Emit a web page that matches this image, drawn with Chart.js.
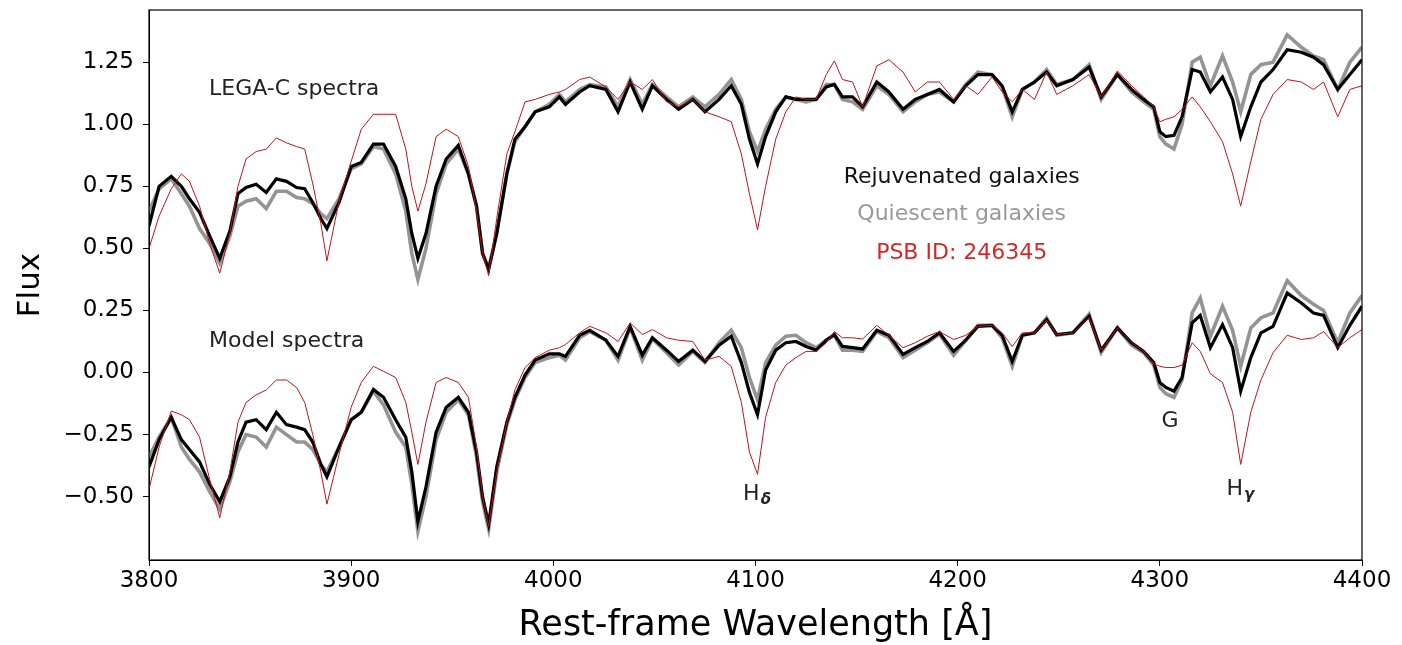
<!DOCTYPE html>
<html>
<head>
<meta charset="utf-8">
<script src="https://cdn.jsdelivr.net/npm/chart.js@4.4.0/dist/chart.umd.min.js"></script>
<style>
  html, body { margin: 0; padding: 0; background: #fff; }
  #wrap { width: 1402px; height: 645px; }
</style>
</head>
<body>
<div id="wrap"><canvas id="myChart" width="1402" height="645"></canvas></div>
<script>
// wavelength grid (Angstrom), shared by all spectra
const wavelength = [
  3800, 3805, 3811, 3816, 3820, 3825, 3830, 3835, 3840, 3844,
  3848, 3853, 3858, 3863, 3868, 3873, 3877, 3881, 3885, 3888,
  3894, 3900, 3905, 3911, 3916, 3922, 3927, 3930, 3933, 3937,
  3942, 3947, 3953, 3958, 3962, 3965, 3968, 3972, 3977, 3981,
  3986, 3991, 3998, 4003, 4006, 4013, 4018, 4026, 4032, 4038,
  4044, 4049, 4056, 4062, 4069, 4075, 4082, 4088, 4093, 4097,
  4101, 4105, 4110, 4115, 4120, 4125, 4130, 4135, 4139, 4143,
  4148, 4153, 4160, 4166, 4173, 4179, 4185, 4191, 4198, 4204,
  4210, 4217, 4222, 4227, 4232, 4238, 4244, 4249, 4257, 4265,
  4271, 4279, 4286, 4292, 4297, 4300, 4303, 4307, 4311, 4316,
  4320, 4325, 4331, 4336, 4340, 4345, 4350, 4356, 4363, 4370,
  4376, 4381, 4388, 4394, 4400
];

// LEGA-C spectra (upper set)
const legacRejuvenated = [
  0.59, 0.75, 0.79, 0.75, 0.70, 0.645, 0.55, 0.46, 0.57, 0.72,
  0.745, 0.758, 0.725, 0.78, 0.77, 0.745, 0.74, 0.685, 0.62, 0.58,
  0.685, 0.83, 0.846, 0.92, 0.92, 0.83, 0.70, 0.56, 0.46, 0.56,
  0.75, 0.86, 0.915, 0.80, 0.67, 0.48, 0.415, 0.56, 0.80, 0.94,
  0.99, 1.05, 1.07, 1.11, 1.08, 1.13, 1.155, 1.14, 1.05, 1.17,
  1.06, 1.155, 1.10, 1.06, 1.10, 1.05, 1.10, 1.155, 1.08, 0.94,
  0.84, 0.95, 1.05, 1.11, 1.10, 1.10, 1.10, 1.15, 1.16, 1.11,
  1.11, 1.07, 1.17, 1.13, 1.06, 1.10, 1.12, 1.14, 1.09, 1.155,
  1.20, 1.20, 1.155, 1.05, 1.14, 1.17, 1.21, 1.155, 1.18, 1.23,
  1.11, 1.20, 1.14, 1.10, 1.07, 0.97, 0.95, 0.955, 1.03, 1.22,
  1.21, 1.13, 1.19, 1.10, 0.95, 1.07, 1.17, 1.22, 1.30, 1.29,
  1.27, 1.24, 1.14, 1.20, 1.26
];
const legacQuiescent = [
  0.65, 0.74, 0.78, 0.72, 0.67, 0.58, 0.52, 0.44, 0.55, 0.67,
  0.69, 0.70, 0.66, 0.73, 0.73, 0.705, 0.70, 0.68, 0.64, 0.62,
  0.70, 0.82, 0.84, 0.91, 0.90, 0.80, 0.65, 0.48, 0.375, 0.50,
  0.72, 0.84, 0.90, 0.80, 0.67, 0.48, 0.42, 0.56, 0.80, 0.93,
  0.99, 1.05, 1.08, 1.12, 1.09, 1.14, 1.16, 1.15, 1.07, 1.18,
  1.08, 1.16, 1.11, 1.07, 1.11, 1.07, 1.12, 1.18, 1.10, 0.97,
  0.89, 0.98, 1.06, 1.11, 1.10, 1.09, 1.10, 1.16, 1.16, 1.10,
  1.09, 1.06, 1.155, 1.12, 1.05, 1.09, 1.12, 1.13, 1.09, 1.16,
  1.21, 1.20, 1.15, 1.03, 1.14, 1.17, 1.22, 1.16, 1.18, 1.24,
  1.10, 1.20, 1.13, 1.09, 1.06, 0.95, 0.92, 0.90, 1.00, 1.25,
  1.27, 1.155, 1.275, 1.17, 1.05, 1.20, 1.24, 1.25, 1.36, 1.31,
  1.275, 1.26, 1.14, 1.25, 1.31
];
const legacPSB = [
  0.50, 0.63, 0.74, 0.80, 0.77, 0.67, 0.52, 0.40, 0.56, 0.75,
  0.86, 0.89, 0.90, 0.945, 0.925, 0.91, 0.90, 0.76, 0.60, 0.45,
  0.69, 0.85, 0.98, 1.04, 1.04, 1.04, 0.90, 0.75, 0.65, 0.76,
  0.95, 0.98, 0.95, 0.83, 0.65, 0.48, 0.39, 0.62, 0.88, 0.97,
  1.09, 1.10, 1.12, 1.13, 1.14, 1.18, 1.19, 1.15, 1.10, 1.17,
  1.14, 1.18, 1.09, 1.07, 1.10, 1.05, 1.03, 1.01, 0.88, 0.72,
  0.575, 0.75, 0.94, 1.05, 1.11, 1.10, 1.10, 1.20, 1.255, 1.18,
  1.17, 1.07, 1.235, 1.26, 1.21, 1.13, 1.17, 1.17, 1.10, 1.155,
  1.12, 1.19, 1.13, 1.09, 1.14, 1.10, 1.21, 1.12, 1.155, 1.20,
  1.11, 1.215, 1.155, 1.11, 1.07, 1.01, 1.02, 1.03, 1.06, 1.11,
  1.07, 1.01, 0.93, 0.80, 0.67, 0.85, 1.02, 1.12, 1.18, 1.17,
  1.14, 1.17, 1.03, 1.14, 1.155
];

// Model spectra (lower set)
const modelRejuvenated = [
  -0.38, -0.27, -0.18, -0.27, -0.31, -0.36, -0.45, -0.52, -0.42, -0.28,
  -0.20, -0.19, -0.23, -0.16, -0.21, -0.22, -0.23, -0.28, -0.37, -0.42,
  -0.30, -0.19, -0.16, -0.068, -0.10, -0.19, -0.26, -0.40, -0.60, -0.46,
  -0.24, -0.14, -0.10, -0.16, -0.32, -0.50, -0.61, -0.38, -0.20, -0.10,
  -0.01, 0.05, 0.075, 0.075, 0.065, 0.15, 0.17, 0.13, 0.065, 0.186,
  0.07, 0.14, 0.09, 0.045, 0.09, 0.045, 0.11, 0.146, 0.04, -0.08,
  -0.17, 0.01, 0.09, 0.12, 0.125, 0.105, 0.09, 0.13, 0.153, 0.105,
  0.10, 0.095, 0.17, 0.15, 0.073, 0.10, 0.125, 0.16, 0.085, 0.13,
  0.186, 0.19, 0.15, 0.045, 0.15, 0.16, 0.213, 0.153, 0.16, 0.227,
  0.09, 0.18, 0.12, 0.085, 0.04, -0.04, -0.06, -0.075, -0.02, 0.20,
  0.23, 0.10, 0.193, 0.10, -0.075, 0.06, 0.16, 0.186, 0.32, 0.28,
  0.24, 0.23, 0.10, 0.19, 0.267
];
const modelQuiescent = [
  -0.34, -0.26, -0.18, -0.30, -0.35, -0.40, -0.48, -0.55, -0.44, -0.32,
  -0.25, -0.26, -0.30, -0.22, -0.25, -0.28, -0.28, -0.31, -0.37, -0.40,
  -0.30, -0.19, -0.16, -0.075, -0.13, -0.24, -0.30, -0.45, -0.64, -0.50,
  -0.27, -0.16, -0.11, -0.17, -0.34, -0.52, -0.63, -0.40, -0.21, -0.11,
  -0.02, 0.04, 0.06, 0.07, 0.05, 0.14, 0.165, 0.13, 0.05, 0.18,
  0.05, 0.135, 0.08, 0.03, 0.085, 0.04, 0.12, 0.17, 0.10, -0.02,
  -0.11, 0.04, 0.11, 0.146, 0.15, 0.12, 0.10, 0.13, 0.15, 0.09,
  0.09, 0.085, 0.165, 0.14, 0.06, 0.09, 0.12, 0.155, 0.07, 0.13,
  0.19, 0.19, 0.14, 0.025, 0.15, 0.16, 0.22, 0.15, 0.16, 0.235,
  0.08, 0.18, 0.11, 0.08, 0.03, -0.06, -0.085, -0.10, -0.03, 0.24,
  0.30, 0.146, 0.267, 0.17, 0.025, 0.18, 0.22, 0.24, 0.37, 0.31,
  0.275, 0.25, 0.12, 0.24, 0.31
];
const modelPSB = [
  -0.47, -0.30, -0.155, -0.17, -0.19, -0.26, -0.43, -0.585, -0.40, -0.20,
  -0.12, -0.09, -0.07, -0.03, -0.03, -0.06, -0.12, -0.25, -0.40, -0.53,
  -0.33, -0.14, -0.04, 0.025, 0.005, -0.02, -0.12, -0.24, -0.37, -0.20,
  -0.04, -0.02, -0.04, -0.10, -0.30, -0.50, -0.62, -0.40, -0.20, -0.07,
  0.02, 0.06, 0.09, 0.10, 0.113, 0.16, 0.186, 0.16, 0.125, 0.20,
  0.153, 0.173, 0.14, 0.13, 0.125, 0.05, 0.065, 0.025, -0.12, -0.32,
  -0.41, -0.18, -0.04, 0.03, 0.06, 0.085, 0.085, 0.12, 0.165, 0.14,
  0.14, 0.135, 0.19, 0.15, 0.10, 0.12, 0.146, 0.165, 0.133, 0.15,
  0.186, 0.19, 0.16, 0.105, 0.16, 0.16, 0.21, 0.153, 0.16, 0.22,
  0.09, 0.18, 0.12, 0.085, 0.035, 0.025, 0.02, 0.02, 0.03, 0.12,
  0.085, -0.005, -0.04, -0.16, -0.37, -0.16, -0.03, 0.08, 0.15, 0.133,
  0.14, 0.165, 0.10, 0.14, 0.173
];

const yTicks = [-0.5, -0.25, 0, 0.25, 0.5, 0.75, 1.0, 1.25];

// text labels placed in data coordinates
const notes = [
  { text: "LEGA-C spectra", x: 3829.7, y: 1.14, color: "#222", align: "left" },
  { text: "Model spectra", x: 3829.7, y: 0.125, color: "#222", align: "left" },
  { text: "Rejuvenated galaxies", x: 4202, y: 0.786, color: "#111", align: "center" },
  { text: "Quiescent galaxies", x: 4202, y: 0.637, color: "#999", align: "center" },
  { text: "PSB ID: 246345", x: 4202, y: 0.48, color: "#d62728", align: "center" },
  { text: "G", x: 4305, y: -0.198, color: "#222", align: "center" },
  { text: "H", sub: "\u03b4", x: 4100.5, y: -0.49, color: "#222", align: "center" },
  { text: "H", sub: "\u03b3", x: 4339.6, y: -0.47, color: "#222", align: "center" }
];

function pts(ys) {
  return wavelength.map((w, i) => ({ x: w, y: ys[i] }));
}

const FONT = "'DejaVu Sans', sans-serif";
const NOTE_SIZE = 22;

const notesPlugin = {
  id: "notes",
  afterDatasetsDraw(chart) {
    const c = chart.ctx;
    const xs = chart.scales.x, ys = chart.scales.y;
    const a = chart.chartArea;
    c.save();
    c.strokeStyle = "#000";
    c.lineWidth = 1.2;
    c.strokeRect(a.left, a.top, a.right - a.left, a.bottom - a.top);
    c.textBaseline = "middle";
    notes.forEach((n) => {
      const px = xs.getPixelForValue(n.x);
      const py = ys.getPixelForValue(n.y);
      c.fillStyle = n.color;
      c.font = NOTE_SIZE + "px " + FONT;
      if (n.sub) {
        const w1 = c.measureText(n.text).width;
        c.font = "bold italic 15px " + FONT;
        const w2 = c.measureText(n.sub).width;
        const x0 = px - (w1 + w2) / 2;
        c.textAlign = "left";
        c.font = NOTE_SIZE + "px " + FONT;
        c.fillText(n.text, x0, py);
        c.font = "bold italic 15px " + FONT;
        c.fillText(n.sub, x0 + w1 + 1, py + 6);
      } else {
        c.textAlign = n.align;
        c.fillText(n.text, px, py);
      }
    });
    c.restore();
  }
};

const ctx = document.getElementById("myChart");
new Chart(ctx, {
  type: "scatter",
  data: {
    datasets: [
      { label: "LEGA-C PSB", data: pts(legacPSB), borderColor: "#c0131b", borderWidth: 1, order: 0 },
      { label: "LEGA-C rejuvenated", data: pts(legacRejuvenated), borderColor: "#000", borderWidth: 3.2, order: 1 },
      { label: "LEGA-C quiescent", data: pts(legacQuiescent), borderColor: "#949494", borderWidth: 3.6, order: 2 },
      { label: "Model PSB", data: pts(modelPSB), borderColor: "#c0131b", borderWidth: 1, order: 0 },
      { label: "Model rejuvenated", data: pts(modelRejuvenated), borderColor: "#000", borderWidth: 3.2, order: 1 },
      { label: "Model quiescent", data: pts(modelQuiescent), borderColor: "#949494", borderWidth: 3.6, order: 2 }
    ].map((d) => Object.assign(d, { showLine: true, pointRadius: 0, tension: 0, fill: false }))
  },
  options: {
    responsive: false,
    animation: false,
    layout: { padding: { top: 10, right: 40, left: 0, bottom: 0 } },
    plugins: { legend: { display: false }, tooltip: { enabled: false } },
    scales: {
      x: {
        type: "linear",
        min: 3800,
        max: 4400,
        afterFit(s) { s.height = 85; s.paddingLeft = 0; s.paddingRight = 0; },
        ticks: { stepSize: 100, color: "#000", font: { family: FONT, size: 23 }, padding: 1, callback: (v) => String(v) },
        grid: { display: true, drawOnChartArea: false, drawTicks: true, tickLength: 6, color: "#000" },
        border: { display: true, color: "#000" },
        title: { display: true, text: "Rest-frame Wavelength [\u00c5]", color: "#000", font: { family: FONT, size: 35, lineHeight: 1.1 }, padding: { top: 0, bottom: 0 } }
      },
      y: {
        type: "linear",
        min: -0.755,
        max: 1.46,
        afterFit(s) { s.width = 149; s.paddingTop = 0; s.paddingBottom = 0; },
        afterBuildTicks(s) { s.ticks = yTicks.map((v) => ({ value: v })); },
        ticks: {
          color: "#000",
          font: { family: FONT, size: 23 },
          padding: 9,
          callback: (v) => (v < 0 ? "\u2212" : "") + Math.abs(v).toFixed(2)
        },
        grid: { display: true, drawOnChartArea: false, drawTicks: true, tickLength: 6, color: "#000" },
        border: { display: true, color: "#000" },
        title: { display: true, text: "Flux", color: "#000", font: { family: FONT, size: 31 }, padding: { bottom: 0, top: 12 } }
      }
    }
  },
  plugins: [notesPlugin]
});
</script>
</body>
</html>
